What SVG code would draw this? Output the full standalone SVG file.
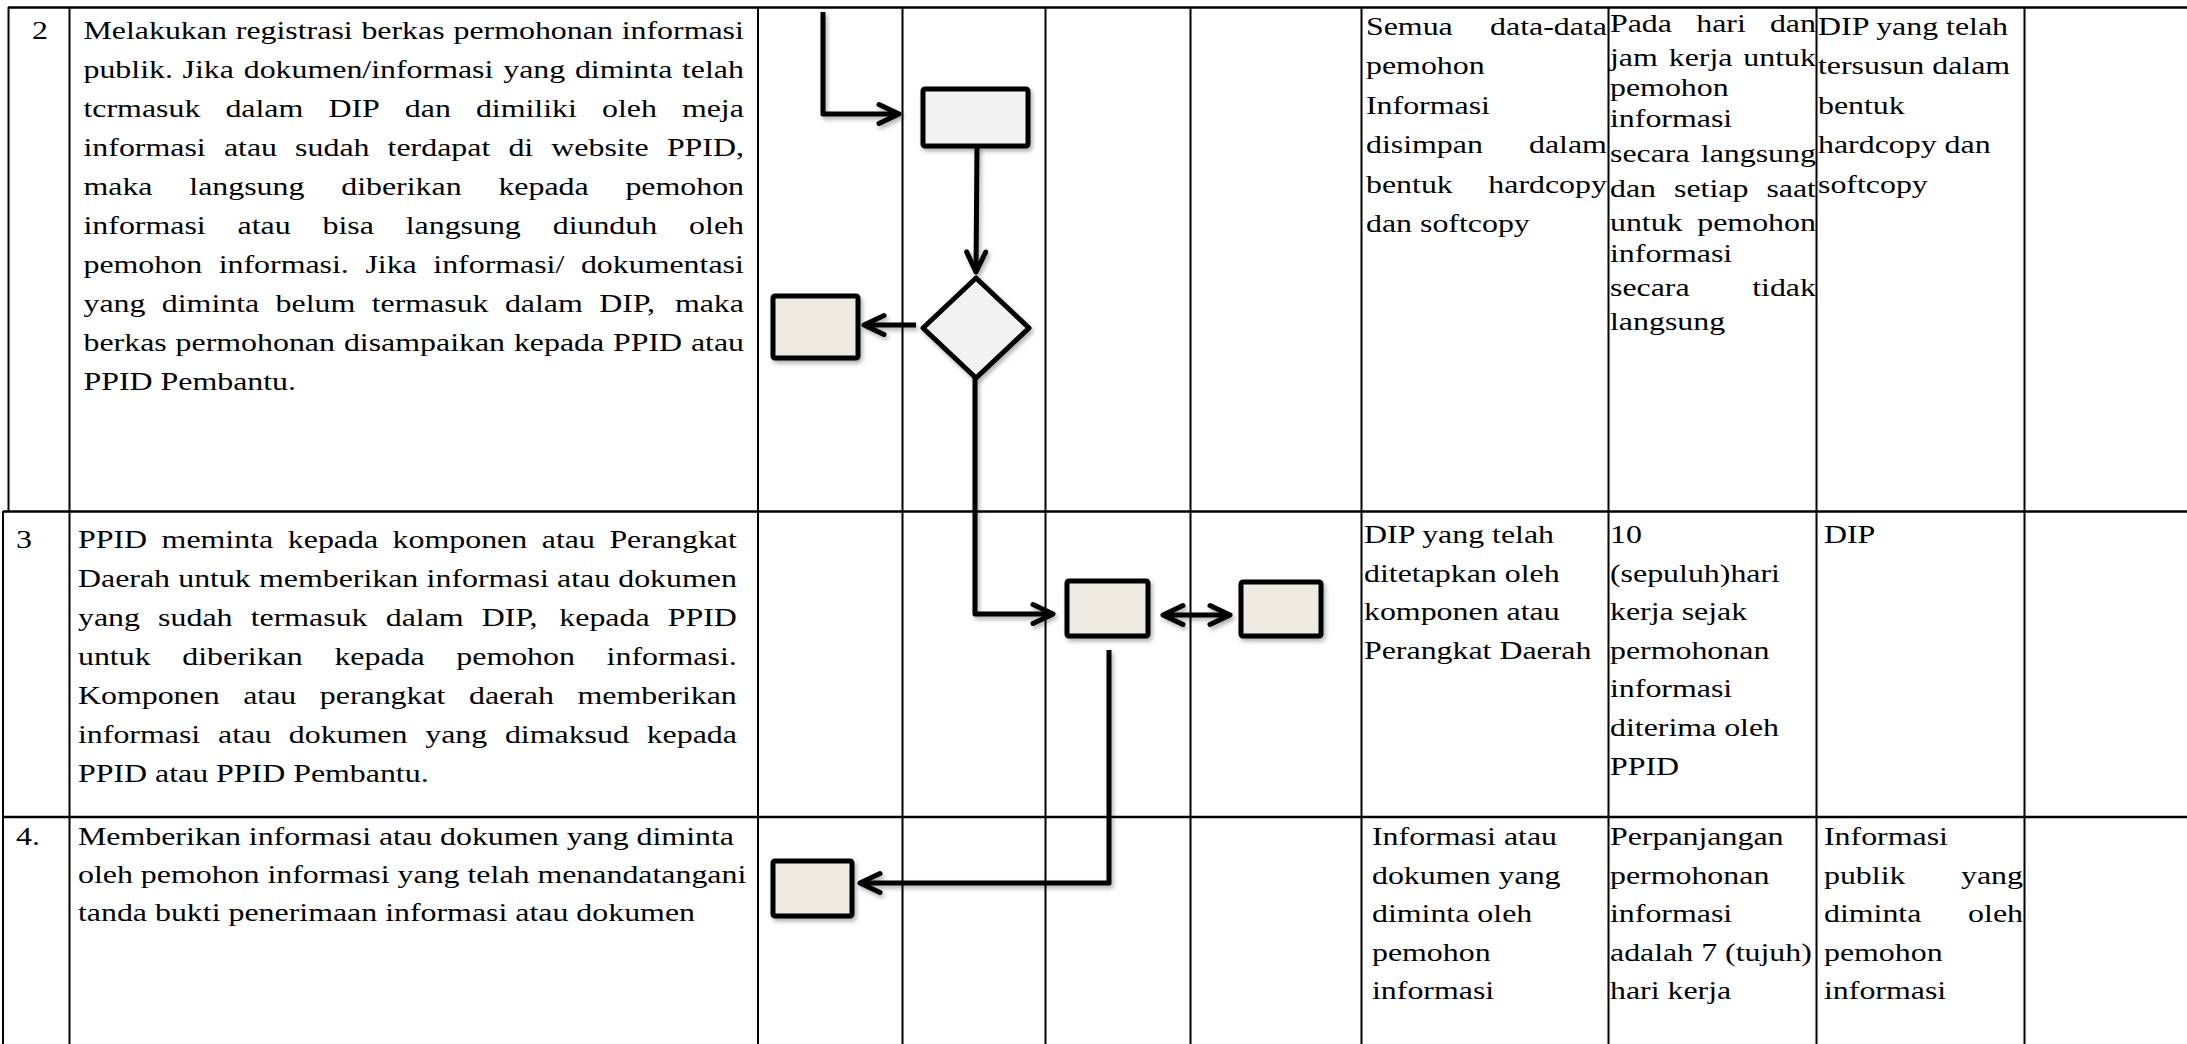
<svg xmlns="http://www.w3.org/2000/svg" width="2187" height="1044" viewBox="0 0 2187 1044">
<style>
.t{font-family:"Liberation Serif","Times New Roman",serif;font-size:31.9px;fill:#000}
.gl{stroke:#000;stroke-width:2;fill:none}
.gh{stroke:#000;stroke-width:2.5;fill:none}
.box{stroke:#000;stroke-width:5;fill:#edebe1}
.boxl{stroke:#000;stroke-width:5;fill:#f2f2f2}
.con{stroke:#000;stroke-width:5;fill:none;stroke-linejoin:round}
</style>
<defs>
<filter id="sh" x="-20%" y="-20%" width="140%" height="140%">
<feDropShadow dx="2" dy="3" stdDeviation="2" flood-color="#000" flood-opacity="0.3"/>
</filter>
<marker id="ah" viewBox="-26 -14 32 28" refX="0" refY="0" markerWidth="32" markerHeight="28" markerUnits="userSpaceOnUse" orient="auto-start-reverse" overflow="visible">
<path d="M-20,-9.5 L0,0 L-20,9.5" fill="none" stroke="#000" stroke-width="5" stroke-linecap="round" stroke-linejoin="round"/>
</marker>
</defs>
<rect width="2187" height="1044" fill="#fff"/>
<g id="table-grid">
<line class="gh" x1="8" y1="7.5" x2="2187" y2="7.5"/>
<line class="gh" x1="3" y1="511.5" x2="2187" y2="511.5"/>
<line class="gh" x1="3" y1="817" x2="2187" y2="817"/>
<line class="gl" x1="8.5" y1="7" x2="8.5" y2="512"/>
<line class="gl" x1="3" y1="511" x2="3" y2="1044"/>
<line class="gl" x1="69.5" y1="7" x2="69.5" y2="1044"/>
<line class="gl" x1="758" y1="7" x2="758" y2="1044"/>
<line class="gl" x1="902.5" y1="7" x2="902.5" y2="1044"/>
<line class="gl" x1="1045.5" y1="7" x2="1045.5" y2="1044"/>
<line class="gl" x1="1190.5" y1="7" x2="1190.5" y2="1044"/>
<line class="gl" x1="1361.5" y1="7" x2="1361.5" y2="1044"/>
<line class="gl" x1="1608.5" y1="7" x2="1608.5" y2="1044"/>
<line class="gl" x1="1816.5" y1="7" x2="1816.5" y2="1044"/>
<line class="gl" x1="2024.5" y1="7" x2="2024.5" y2="1044"/>
</g>
<g id="table-text" transform="scale(1,0.815)">
<g id="row2-text">
<text class="t" x="32" y="48.22">2</text>
<text class="t" y="48.22"><tspan x="83.5">Melakukan</tspan><tspan x="235.8">registrasi</tspan><tspan x="361.4">berkas</tspan><tspan x="453.5">permohonan</tspan><tspan x="621.7">informasi</tspan></text>
<text class="t" y="96.07"><tspan x="83.5">publik.</tspan><tspan x="182.6">Jika</tspan><tspan x="243.7">dokumen/informasi</tspan><tspan x="503.2">yang</tspan><tspan x="574.9">diminta</tspan><tspan x="682">telah</tspan></text>
<text class="t" y="143.93"><tspan x="83.5">tcrmasuk</tspan><tspan x="225.4">dalam</tspan><tspan x="328.4">DIP</tspan><tspan x="404.8">dan</tspan><tspan x="475.9">dimiliki</tspan><tspan x="602">oleh</tspan><tspan x="681.9">meja</tspan></text>
<text class="t" y="191.78"><tspan x="83.5">informasi</tspan><tspan x="223.9">atau</tspan><tspan x="295.1">sudah</tspan><tspan x="387.6">terdapat</tspan><tspan x="508.4">di</tspan><tspan x="551.3">website</tspan><tspan x="666.9">PPID,</tspan></text>
<text class="t" y="239.63"><tspan x="83.5">maka</tspan><tspan x="189.3">langsung</tspan><tspan x="341.2">diberikan</tspan><tspan x="498.4">kepada</tspan><tspan x="625.4">pemohon</tspan></text>
<text class="t" y="287.48"><tspan x="83.5">informasi</tspan><tspan x="237.6">atau</tspan><tspan x="322.5">bisa</tspan><tspan x="405.7">langsung</tspan><tspan x="552.7">diunduh</tspan><tspan x="689.1">oleh</tspan></text>
<text class="t" y="335.34"><tspan x="83.5">pemohon</tspan><tspan x="218.7">informasi.</tspan><tspan x="365.4">Jika</tspan><tspan x="433.3">informasi/</tspan><tspan x="580.9">dokumentasi</tspan></text>
<text class="t" y="383.19"><tspan x="83.5">yang</tspan><tspan x="161.8">diminta</tspan><tspan x="275.6">belum</tspan><tspan x="371.7">termasuk</tspan><tspan x="504.9">dalam</tspan><tspan x="599.2">DIP,</tspan><tspan x="674.9">maka</tspan></text>
<text class="t" y="431.04"><tspan x="83.5">berkas</tspan><tspan x="175.6">permohonan</tspan><tspan x="343.9">disampaikan</tspan><tspan x="513.9">kepada</tspan><tspan x="613">PPID</tspan><tspan x="690.9">atau</tspan></text>
<text class="t" x="83.5" y="478.9">PPID Pembantu.</text>
<text class="t" y="42.94"><tspan x="1366">Semua</tspan><tspan x="1490.1">data-data</tspan></text>
<text class="t" x="1366" y="91.41">pemohon</text>
<text class="t" x="1366" y="139.88">Informasi</text>
<text class="t" y="188.34"><tspan x="1366">disimpan</tspan><tspan x="1529">dalam</tspan></text>
<text class="t" y="236.81"><tspan x="1366">bentuk</tspan><tspan x="1488.3">hardcopy</tspan></text>
<text class="t" x="1366" y="285.28">dan softcopy</text>
<text class="t" y="39.26"><tspan x="1610">Pada</tspan><tspan x="1696.2">hari</tspan><tspan x="1769.9">dan</tspan></text>
<text class="t" y="80.98"><tspan x="1610">jam</tspan><tspan x="1668.7">kerja</tspan><tspan x="1743.3">untuk</tspan></text>
<text class="t" x="1610" y="117.79">pemohon</text>
<text class="t" x="1610" y="155.83">informasi</text>
<text class="t" y="198.77"><tspan x="1610">secara</tspan><tspan x="1700.8">langsung</tspan></text>
<text class="t" y="241.72"><tspan x="1610">dan</tspan><tspan x="1674">setiap</tspan><tspan x="1766.4">saat</tspan></text>
<text class="t" y="283.44"><tspan x="1610">untuk</tspan><tspan x="1697.3">pemohon</tspan></text>
<text class="t" x="1610" y="322.09">informasi</text>
<text class="t" y="363.8"><tspan x="1610">secara</tspan><tspan x="1752.2">tidak</tspan></text>
<text class="t" x="1610" y="404.91">langsung</text>
<text class="t" x="1818" y="42.94">DIP yang telah</text>
<text class="t" x="1818" y="91.41">tersusun dalam</text>
<text class="t" x="1818" y="139.88">bentuk</text>
<text class="t" x="1818" y="188.34">hardcopy dan</text>
<text class="t" x="1818" y="236.81">softcopy</text>
</g>
<g id="row3-text">
<text class="t" x="16" y="672.02">3</text>
<text class="t" y="672.02"><tspan x="78">PPID</tspan><tspan x="161.6">meminta</tspan><tspan x="287.8">kepada</tspan><tspan x="392.6">komponen</tspan><tspan x="541.8">atau</tspan><tspan x="609.4">Perangkat</tspan></text>
<text class="t" y="719.88"><tspan x="78">Daerah</tspan><tspan x="178.2">untuk</tspan><tspan x="259">memberikan</tspan><tspan x="426.6">informasi</tspan><tspan x="557">atau</tspan><tspan x="618.2">dokumen</tspan></text>
<text class="t" y="767.73"><tspan x="78">yang</tspan><tspan x="158.1">sudah</tspan><tspan x="250.7">termasuk</tspan><tspan x="385.7">dalam</tspan><tspan x="481.8">DIP,</tspan><tspan x="559.3">kepada</tspan><tspan x="667.8">PPID</tspan></text>
<text class="t" y="815.58"><tspan x="78">untuk</tspan><tspan x="182.3">diberikan</tspan><tspan x="334.4">kepada</tspan><tspan x="456.3">pemohon</tspan><tspan x="606.6">informasi.</tspan></text>
<text class="t" y="863.44"><tspan x="78">Komponen</tspan><tspan x="243.2">atau</tspan><tspan x="319.8">perangkat</tspan><tspan x="469">daerah</tspan><tspan x="577.5">memberikan</tspan></text>
<text class="t" y="911.29"><tspan x="78">informasi</tspan><tspan x="218">atau</tspan><tspan x="288.8">dokumen</tspan><tspan x="425.2">yang</tspan><tspan x="504.9">dimaksud</tspan><tspan x="646.7">kepada</tspan></text>
<text class="t" x="78" y="959.14">PPID atau PPID Pembantu.</text>
<text class="t" x="1364" y="666.26">DIP yang telah</text>
<text class="t" x="1364" y="713.62">ditetapkan oleh</text>
<text class="t" x="1364" y="760.98">komponen atau</text>
<text class="t" x="1364" y="808.34">Perangkat Daerah</text>
<text class="t" x="1610" y="666.26">10</text>
<text class="t" x="1610" y="713.62">(sepuluh)hari</text>
<text class="t" x="1610" y="760.98">kerja sejak</text>
<text class="t" x="1610" y="808.34">permohonan</text>
<text class="t" x="1610" y="855.71">informasi</text>
<text class="t" x="1610" y="903.07">diterima oleh</text>
<text class="t" x="1610" y="950.43">PPID</text>
<text class="t" x="1824" y="666.26">DIP</text>
</g>
<g id="row4-text">
<text class="t" x="16" y="1037.42">4.</text>
<text class="t" x="78" y="1037.42">Memberikan informasi atau dokumen yang diminta</text>
<text class="t" x="78" y="1084.05">oleh pemohon informasi yang telah menandatangani</text>
<text class="t" x="78" y="1130.67">tanda bukti penerimaan informasi atau dokumen</text>
<text class="t" x="1372" y="1037.42">Informasi atau</text>
<text class="t" x="1372" y="1084.66">dokumen yang</text>
<text class="t" x="1372" y="1131.9">diminta oleh</text>
<text class="t" x="1372" y="1179.14">pemohon</text>
<text class="t" x="1372" y="1226.38">informasi</text>
<text class="t" x="1610" y="1037.42">Perpanjangan</text>
<text class="t" x="1610" y="1084.66">permohonan</text>
<text class="t" x="1610" y="1131.9">informasi</text>
<text class="t" x="1610" y="1179.14">adalah 7 (tujuh)</text>
<text class="t" x="1610" y="1226.38">hari kerja</text>
<text class="t" x="1824" y="1037.42">Informasi</text>
<text class="t" y="1084.66"><tspan x="1824">publik</tspan><tspan x="1961">yang</tspan></text>
<text class="t" y="1131.9"><tspan x="1824">diminta</tspan><tspan x="1968.1">oleh</tspan></text>
<text class="t" x="1824" y="1179.14">pemohon</text>
<text class="t" x="1824" y="1226.38">informasi</text>
</g>
</g>
<g id="connectors" filter="url(#sh)">
<path class="con" d="M823,12 V114 H899" marker-end="url(#ah)"/>
<path class="con" d="M977,146 L976,272" marker-end="url(#ah)"/>
<path class="con" d="M916,325 H864" marker-end="url(#ah)"/>
<path class="con" d="M975,378 V614 H1053" marker-end="url(#ah)"/>
<path class="con" d="M1163,615 H1230" marker-start="url(#ah)" marker-end="url(#ah)"/>
<path class="con" d="M1109,650 V883 H860" marker-end="url(#ah)"/>
</g>
<g id="node-register" filter="url(#sh)"><rect class="boxl" x="923" y="89" width="105" height="57" rx="2"/></g>
<g id="node-decision" filter="url(#sh)"><polygon class="boxl" points="976,278 1029,328 976,378 923,328" stroke-linejoin="round"/></g>
<g id="node-direct" filter="url(#sh)"><rect class="box" x="773" y="296" width="85" height="62" rx="2"/></g>
<g id="node-ppid" filter="url(#sh)"><rect class="box" x="1067" y="581" width="81" height="55" rx="2"/></g>
<g id="node-perangkat" filter="url(#sh)"><rect class="box" x="1241" y="582" width="80" height="54" rx="2"/></g>
<g id="node-deliver" filter="url(#sh)"><rect class="box" x="773" y="861" width="79" height="55" rx="2"/></g>
</svg>
